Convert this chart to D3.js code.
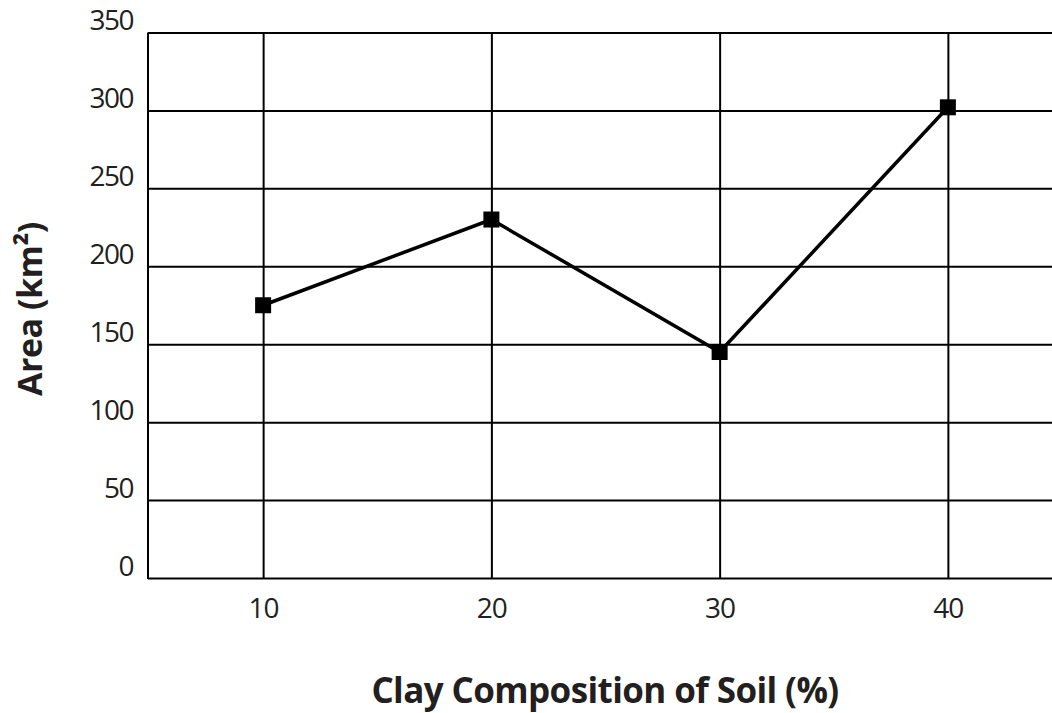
<!DOCTYPE html>
<html><head><meta charset="utf-8">
<script src="https://cdn.jsdelivr.net/npm/d3@7"></script>
<style>
html,body{margin:0;padding:0;background:#fff;overflow:hidden}
text{font-family:"Open Sans","Noto Sans",sans-serif;fill:#231f20}
</style></head>
<body>
<svg id="chart" width="1052" height="713"></svg>
<script>
const clayPct = [10, 20, 30, 40];
const areaKm2 = [175, 230, 145, 302];
const yTicks = [0, 50, 100, 150, 200, 250, 300, 350];
const xTicks = [10, 20, 30, 40];
const xTitle = "Clay Composition of Soil (%)";
const yTitle = "Area (km²)";

const svg = d3.select("#chart");
const x = d3.scaleLinear().domain([5, 45]).range([149, 1062]);
const y = d3.scaleLinear().domain([0, 350]).range([578, 32.5]);

const g = svg.append("g");
// horizontal grid
g.append("g").attr("transform", "translate(148,0)")
  .call(d3.axisRight(y).tickValues(yTicks).tickSize(1052 - 148).tickFormat(""))
  .call(s => { s.select(".domain").remove(); s.selectAll("line").attr("stroke", "#000").attr("stroke-width", 2); });
// vertical grid
g.append("g").attr("transform", "translate(0,32.5)")
  .call(d3.axisBottom(x).tickValues(xTicks).tickSize(578 - 32.5).tickFormat(""))
  .call(s => { s.select(".domain").remove(); s.selectAll("line").attr("stroke", "#000").attr("stroke-width", 2); });
// left axis line
g.append("line").attr("x1", 148).attr("x2", 148).attr("y1", 32.5).attr("y2", 579)
  .attr("stroke", "#000").attr("stroke-width", 2);

// y tick labels
const yAx = g.append("g").attr("transform", "translate(148,0)")
  .call(d3.axisLeft(y).tickValues(yTicks).tickSize(0).tickPadding(15));
yAx.select(".domain").remove();
yAx.selectAll("text").attr("font-size", 28).attr("letter-spacing", -1.5)
  .attr("font-family", '"Open Sans",sans-serif').attr("fill", "#231f20").attr("dy", "-0.1em");

// x tick labels
const xAx = g.append("g").attr("transform", "translate(0,578)")
  .call(d3.axisBottom(x).tickValues(xTicks).tickSize(0).tickPadding(20));
xAx.select(".domain").remove();
xAx.selectAll("text").attr("font-size", 28).attr("letter-spacing", -1)
  .attr("font-family", '"Open Sans",sans-serif').attr("fill", "#231f20");

// line
const line = d3.line().x((d, i) => x(clayPct[i])).y(d => y(d));
g.append("path").datum(areaKm2).attr("d", line)
  .attr("fill", "none").attr("stroke", "#000").attr("stroke-width", 3.5).attr("stroke-linejoin", "miter");
// markers
g.selectAll("rect.m").data(areaKm2).join("rect").attr("class", "m")
  .attr("x", (d, i) => x(clayPct[i]) - 8).attr("y", d => y(d) - 8)
  .attr("width", 16).attr("height", 16).attr("fill", "#000");

// titles
svg.append("text").attr("x", 605).attr("y", 703).attr("text-anchor", "middle")
  .attr("font-size", 35).attr("font-weight", "bold").attr("letter-spacing", -0.6).text(xTitle);
svg.append("text").attr("transform", "translate(42,309) rotate(-90)").attr("text-anchor", "middle")
  .attr("font-size", 34).attr("font-weight", "bold").attr("letter-spacing", -0.5).text(yTitle);
</script>
</body></html>
